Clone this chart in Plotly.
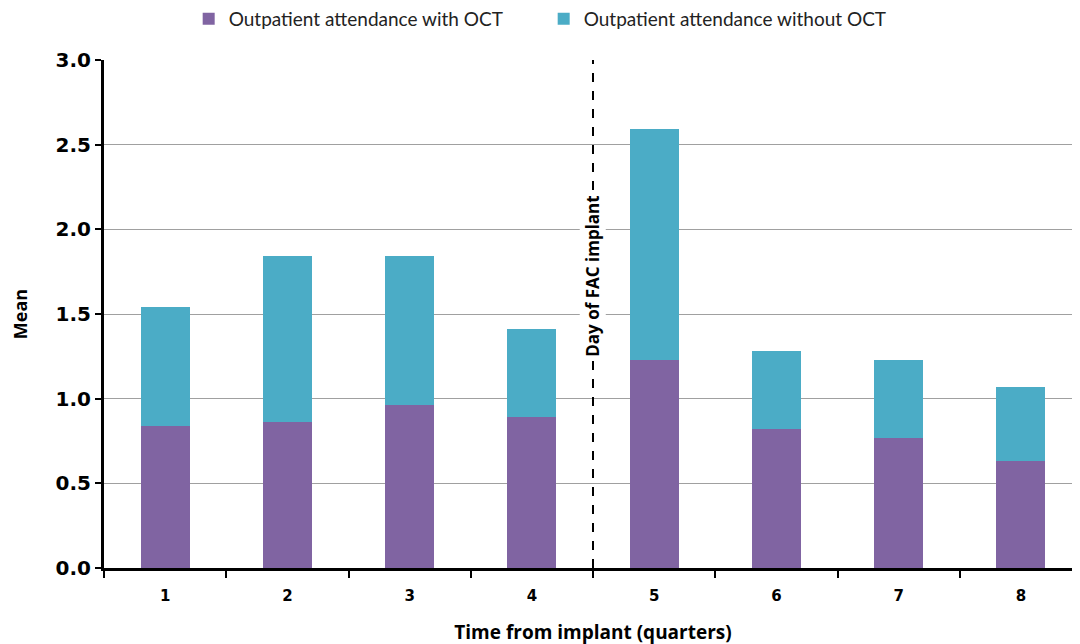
import plotly.graph_objects as go

quarters = ["1", "2", "3", "4", "5", "6", "7", "8"]
with_oct = [0.84, 0.86, 0.96, 0.89, 1.23, 0.82, 0.77, 0.63]
without_oct = [0.70, 0.98, 0.88, 0.52, 1.36, 0.46, 0.46, 0.44]
series_names = ["Outpatient attendance with OCT", "Outpatient attendance without OCT"]
implant_label = "Day of FAC implant"
implant_position = 3.5
y_ticks = [0.0, 0.5, 1.0, 1.5, 2.0, 2.5, 3.0]

LEG_FONT = "Lato, 'Open Sans', sans-serif"
TITLE_FONT = "'Open Sans', 'Liberation Sans', sans-serif"
TICK_FONT = "'DejaVu Sans', 'Open Sans', sans-serif"

fig = go.Figure()
fig.add_trace(go.Bar(x=quarters, y=with_oct, name=series_names[0],
                     marker=dict(color="#8064A2", line=dict(width=0)), width=0.4))
fig.add_trace(go.Bar(x=quarters, y=without_oct, name=series_names[1],
                     marker=dict(color="#4BACC6", line=dict(width=0)), width=0.4))

fig.add_shape(type="line", xref="x", yref="paper", x0=implant_position, x1=implant_position,
              y0=0, y1=1, line=dict(color="black", width=2, dash="dash"))
fig.add_annotation(x=implant_position, y=1.72, xref="x", yref="y", text=implant_label,
                   textangle=-90, showarrow=False, bgcolor="white",
                   font=dict(family=TITLE_FONT, size=17, color="black", weight="bold"))

fig.update_layout(
    barmode="stack",
    width=1080, height=644,
    margin=dict(l=96, r=6, t=52, b=84, autoexpand=False),
    paper_bgcolor="white", plot_bgcolor="white",
    font=dict(family=TITLE_FONT, color="black"),
    legend=dict(orientation="h", traceorder="normal",
                xref="container", x=0.496, xanchor="center",
                yref="container", y=1 - 11 / 644, yanchor="middle",
                font=dict(size=19, color="#222", family=LEG_FONT),
                itemwidth=30, entrywidth=310),
    xaxis=dict(type="category", range=[-0.5, 7.5], tickson="boundaries",
               ticks="outside", ticklen=7, tickwidth=2, tickcolor="black",
               showline=True, linecolor="black", linewidth=3,
               tickfont=dict(size=15, family=TICK_FONT, color="black", weight="bold"),
               ticklabelstandoff=12,
               title=dict(text="Time from implant (quarters)",
                          font=dict(size=19, family=TITLE_FONT, weight="bold"), standoff=22),
               showgrid=False),
    yaxis=dict(range=[0, 3], tickvals=y_ticks, tickformat=".1f", ticksuffix="\u00a0",
               ticks="outside", ticklen=6, tickwidth=2, tickcolor="black",
               showline=True, linecolor="black", linewidth=3,
               gridcolor="#a0a0a0", gridwidth=1,
               tickfont=dict(size=20, family=TICK_FONT, color="black", weight="bold"),
               title=dict(text="Mean", font=dict(size=18, family=TITLE_FONT, weight="bold"),
                          standoff=30),
               zeroline=False),
)

fig.write_html("out.html")
